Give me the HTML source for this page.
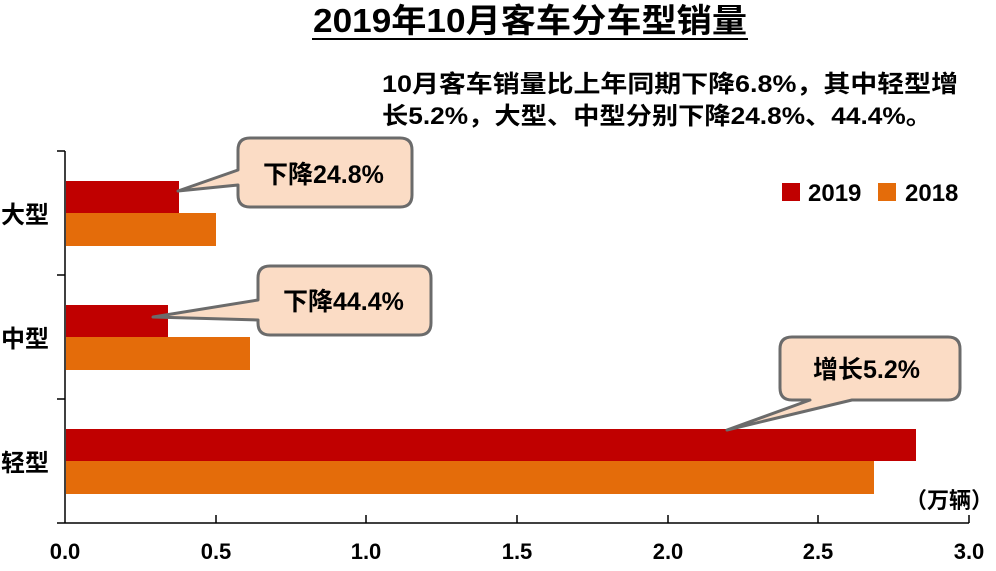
<!DOCTYPE html><html><head><meta charset="utf-8"><style>
body{margin:0;background:#fff}
svg text{font-family:"Liberation Sans","Noto Sans CJK SC",sans-serif;font-weight:bold;fill:#000}
</style></head><body>
<svg width="996" height="566" xmlns="http://www.w3.org/2000/svg">
<text x="530" y="32" font-size="33" text-anchor="middle" textLength="434" lengthAdjust="spacingAndGlyphs">2019年10月客车分车型销量</text>
<line x1="312" y1="39" x2="748" y2="39" stroke="#000" stroke-width="2"/>
<text x="382" y="92" font-size="24" textLength="576" lengthAdjust="spacingAndGlyphs">10月客车销量比上年同期下降6.8%，其中轻型增</text>
<text x="382" y="124" font-size="24" textLength="550" lengthAdjust="spacingAndGlyphs">长5.2%，大型、中型分别下降24.8%、44.4%。</text>
<rect x="66" y="181" width="113" height="32" fill="#c00000"/>
<rect x="66" y="213" width="150" height="33" fill="#e46c0a"/>
<rect x="66" y="305" width="102" height="32" fill="#c00000"/>
<rect x="66" y="337" width="184" height="33" fill="#e46c0a"/>
<rect x="66" y="429" width="850" height="32" fill="#c00000"/>
<rect x="66" y="461" width="808" height="33" fill="#e46c0a"/>
<g stroke="#000" stroke-width="1.5" fill="none">
<line x1="65" y1="151" x2="65" y2="523"/><line x1="65" y1="523" x2="969" y2="523"/>
<line x1="57" y1="151" x2="65" y2="151"/><line x1="57" y1="275" x2="65" y2="275"/><line x1="57" y1="399" x2="65" y2="399"/><line x1="57" y1="523" x2="65" y2="523"/>
<line x1="216" y1="515" x2="216" y2="523"/><line x1="366" y1="515" x2="366" y2="523"/><line x1="517" y1="515" x2="517" y2="523"/><line x1="668" y1="515" x2="668" y2="523"/><line x1="818" y1="515" x2="818" y2="523"/><line x1="969" y1="515" x2="969" y2="523"/>
</g>
<g font-size="22" text-anchor="middle">
<text x="65" y="559">0.0</text><text x="216" y="559">0.5</text><text x="366" y="559">1.0</text><text x="517" y="559">1.5</text><text x="668" y="559">2.0</text><text x="818" y="559">2.5</text><text x="969" y="559">3.0</text>
</g>
<text x="993" y="508" font-size="22" text-anchor="end">（万辆）</text>
<g font-size="24"><text x="1" y="223">大型</text><text x="1" y="347">中型</text><text x="1" y="471">轻型</text></g>
<rect x="782" y="183" width="18" height="18" fill="#c00000"/><text x="808" y="201" font-size="24">2019</text>
<rect x="878" y="183" width="18" height="18" fill="#e46c0a"/><text x="905" y="201" font-size="24">2018</text>
<g fill="#fbdcc5" stroke="#6b6b6b" stroke-width="3" stroke-linejoin="round">
<path d="M250 138 H400 Q412 138 412 150 V195 Q412 207 400 207 H250 Q238 207 238 195 V185 L178 191 L238 170 V150 Q238 138 250 138 Z"/>
<path d="M270 266 H419 Q431 266 431 278 V323 Q431 335 419 335 H270 Q258 335 258 323 V320 L153 317 L258 300 V278 Q258 266 270 266 Z"/>
<path d="M792 337 H948 Q960 337 960 349 V388 Q960 400 948 400 H852 L727 430 L810 400 H792 Q780 400 780 388 V349 Q780 337 792 337 Z"/>
</g>
<g font-size="25"><text x="263" y="183">下降24.8%</text><text x="283" y="310">下降44.4%</text><text x="813" y="378">增长5.2%</text></g>
</svg></body></html>
